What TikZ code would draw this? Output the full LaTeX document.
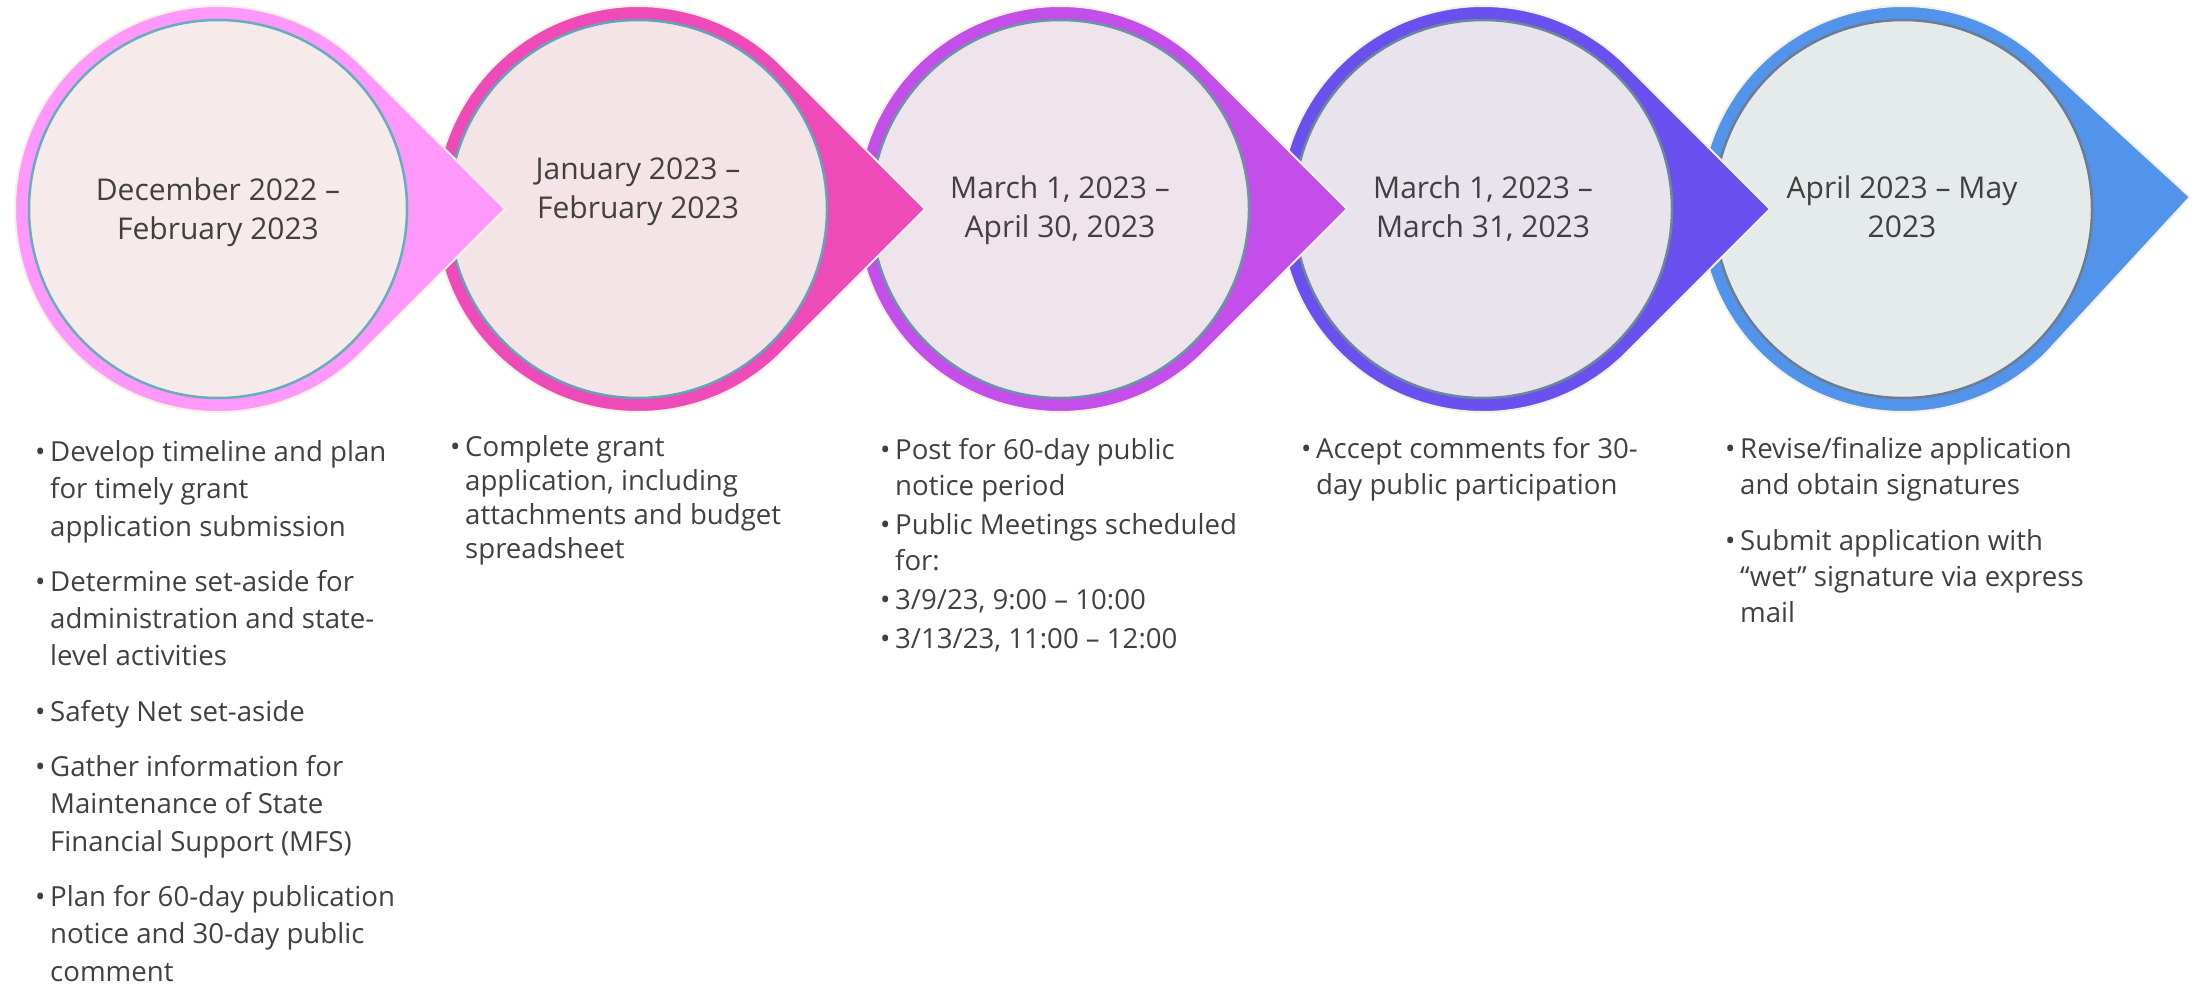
\documentclass[tikz,border=0pt]{standalone}
\usepackage{fontspec}
\setmainfont{Open Sans}
\usepackage{tikz}
\definecolor{ink}{HTML}{404040}
\definecolor{edge}{HTML}{F4F1E2}
\definecolor{ring1}{HTML}{FF98FA}
\definecolor{ring2}{HTML}{EE4BB9}
\definecolor{ring3}{HTML}{C44EEA}
\definecolor{ring4}{HTML}{6A50EE}
\definecolor{ring5}{HTML}{5294EC}
\definecolor{core1}{HTML}{F6EAEB}
\definecolor{core2}{HTML}{F5E4E7}
\definecolor{core3}{HTML}{F0E4EC}
\definecolor{core4}{HTML}{E8E3EC}
\definecolor{core5}{HTML}{E5EBEB}
\definecolor{rim1}{HTML}{66AEBA}
\definecolor{rim2}{HTML}{64A5B4}
\definecolor{rim3}{HTML}{6896A5}
\definecolor{rim4}{HTML}{6A879B}
\definecolor{rim5}{HTML}{6C7D91}
\tikzset{
  drop/.style={draw=edge, line width=2pt, line join=round},
  core/.style={circle, minimum size=378, inner sep=0, line width=2.5pt},
  date/.style={anchor=base, align=center, text=ink, inner sep=0, font=\fontsize{30}{38.5}\selectfont},
  list/.style={anchor=base west, align=left, text=ink, inner sep=0, font=\fontsize{27.6}{36}\selectfont}
}
\newcommand{\drop}[3]{%
  \filldraw[drop, fill=ring#1] (#2+287,#3) -- ([shift={(#2,209)}]45:203) arc[start angle=45, end angle=315, radius=203] -- cycle;
  \node[core, fill=core#1, draw=rim#1] (d#1) at (#2,209) {};}
\newcommand{\bitem}{\makebox[15pt][l]{•}}
\newcommand{\bcont}{\hspace*{15pt}}

\begin{document}
\begin{tikzpicture}[x=1pt, y=-1pt]
\useasboundingbox (0,0) rectangle (2198,986);
\drop{5}{1903}{197}
\drop{4}{1483}{209}
\drop{3}{1060}{209}
\drop{2}{638}{209}
\drop{1}{218}{209}
\node[date] (t1) at (218,239) {December 2022 –\\February 2023};
\node[date] (t2) at (638,218) {January 2023 –\\February 2023};
\node[date] (t3) at (1060,237) {March 1, 2023 –\\April 30, 2023};
\node[date] (t4) at (1483,237) {March 1, 2023 –\\March 31, 2023};
\node[date] (t5) at (1902,237) {April 2023 – May\\2023};
\node[list, font=\fontsize{27.6}{37.3}\selectfont] (l1) at (35,981) {\bitem Develop timeline and plan\\\bcont for timely grant\\\bcont application submission\\[18pt]\bitem Determine set-aside for\\\bcont administration and state-\\\bcont level activities\\[18pt]\bitem Safety Net set-aside\\[18pt]\bitem Gather information for\\\bcont Maintenance of State\\\bcont Financial Support (MFS)\\[18pt]\bitem Plan for 60-day publication\\\bcont notice and 30-day public\\\bcont comment};
\node[list] (l2) at (450,558) {\bitem Complete grant\\[-2pt]\bcont application, including\\[-2pt]\bcont attachments and budget\\[-2pt]\bcont spreadsheet};
\node[list] (l3) at (880,648) {\bitem Post for 60-day public\\\bcont notice period\\[3pt]\bitem Public Meetings scheduled\\\bcont for:\\[3pt]\bitem 3/9/23, 9:00 – 10:00\\[3pt]\bitem 3/13/23, 11:00 – 12:00};
\node[list] (l4) at (1301,494) {\bitem Accept comments for 30-\\\bcont day public participation};
\node[list] (l5) at (1725,622) {\bitem Revise/finalize application\\\bcont and obtain signatures\\[20pt]\bitem Submit application with\\\bcont “wet” signature via express\\\bcont mail};
\end{tikzpicture}
\end{document}
